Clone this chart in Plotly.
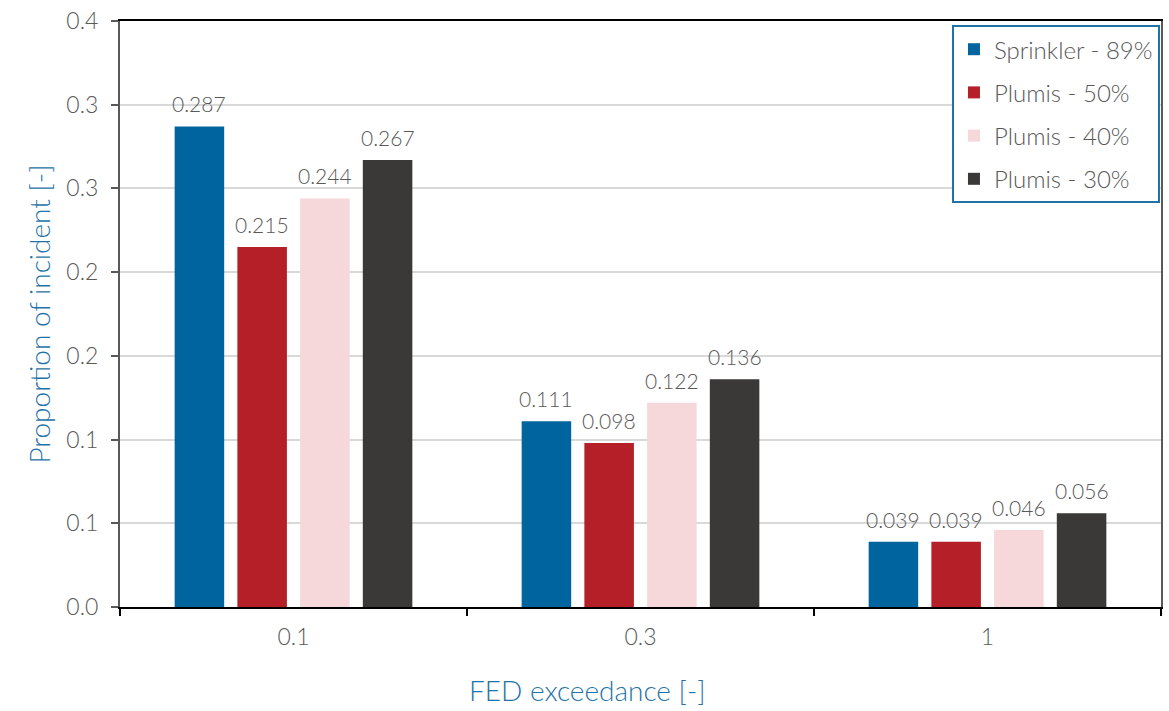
import plotly.graph_objects as go

categories = ["0.1", "0.3", "1"]
series_names = ["Sprinkler - 89%", "Plumis - 50%", "Plumis - 40%", "Plumis - 30%"]
sprinkler_89 = [0.287, 0.111, 0.039]
plumis_50 = [0.215, 0.098, 0.039]
plumis_40 = [0.244, 0.122, 0.046]
plumis_30 = [0.267, 0.136, 0.056]
colors = ["#00659E", "#B41F28", "#F7D8DA", "#3A3938"]
y_tickvals = [0, 0.05, 0.10, 0.15, 0.20, 0.25, 0.30, 0.35]
y_ticktext = ["0.0", "0.1", "0.1", "0.2", "0.2", "0.3", "0.3", "0.4"]

FONT = "Lato"
GRAY = "#595959"
BLUE = "#1F73A8"
BARGAP = 0.277
all_series = [sprinkler_89, plumis_50, plumis_40, plumis_30]

fig = go.Figure()
for name, vals, col in zip(series_names, all_series, colors):
    fig.add_trace(go.Bar(
        x=categories, y=vals, name=name, legendgroup=name,
        marker=dict(color=col, line=dict(width=0)),
    ))

# value labels above bars
n = len(all_series)
slot = (1 - BARGAP) / n
for i, vals in enumerate(all_series):
    for j, v in enumerate(vals):
        fig.add_annotation(
            x=j + (i - (n - 1) / 2) * slot, y=v, xref="x", yref="y",
            text=f"{v:.3f}", showarrow=False, yanchor="bottom", yshift=8,
            font=dict(family=FONT, size=21, color=GRAY, weight=300),
        )

fig.update_layout(
    width=1169, height=711,
    margin=dict(l=120, r=6, t=21, b=104),
    paper_bgcolor="white", plot_bgcolor="white",
    barmode="group", bargap=BARGAP, bargroupgap=0.21,
    font=dict(family=FONT, color=GRAY, weight=300),
    legend=dict(
        x=0.999, y=0.993, xanchor="right", yanchor="top",
        bordercolor=BLUE, borderwidth=2, bgcolor="white",
        font=dict(family=FONT, size=24, color=GRAY, weight=300),
        tracegroupgap=9,
    ),
    showlegend=True,
)
fig.update_xaxes(
    type="category", tickson="boundaries", ticks="outside", ticklen=7, tickwidth=2,
    tickcolor="#000000", showline=True, linecolor="#000000", linewidth=2, mirror=True,
    tickfont=dict(family=FONT, size=23, color=GRAY, weight=300),
    ticklabelstandoff=8,
    showgrid=False,
)
fig.update_yaxes(
    range=[0, 0.35], tickvals=y_tickvals, ticktext=y_ticktext,
    ticks="outside", ticklen=7, tickwidth=2, tickcolor=GRAY,
    showline=True, linecolor=GRAY, linewidth=2, mirror=True,
    showgrid=True, gridcolor="#D9D9D9", gridwidth=2,
    tickfont=dict(family=FONT, size=23, color=GRAY, weight=300),
    ticklabelstandoff=8,
    title=dict(text="Proportion of incident [-]", font=dict(family=FONT, size=28, color=BLUE, weight=300), standoff=8),
    zeroline=False,
)
fig.add_annotation(
    text="FED exceedance [-]", xref="paper", yref="paper", x=0.449, y=-0.142,
    xanchor="center", yanchor="middle", showarrow=False,
    font=dict(family=FONT, size=28, color=BLUE, weight=300),
)
fig.write_html("out.html")
